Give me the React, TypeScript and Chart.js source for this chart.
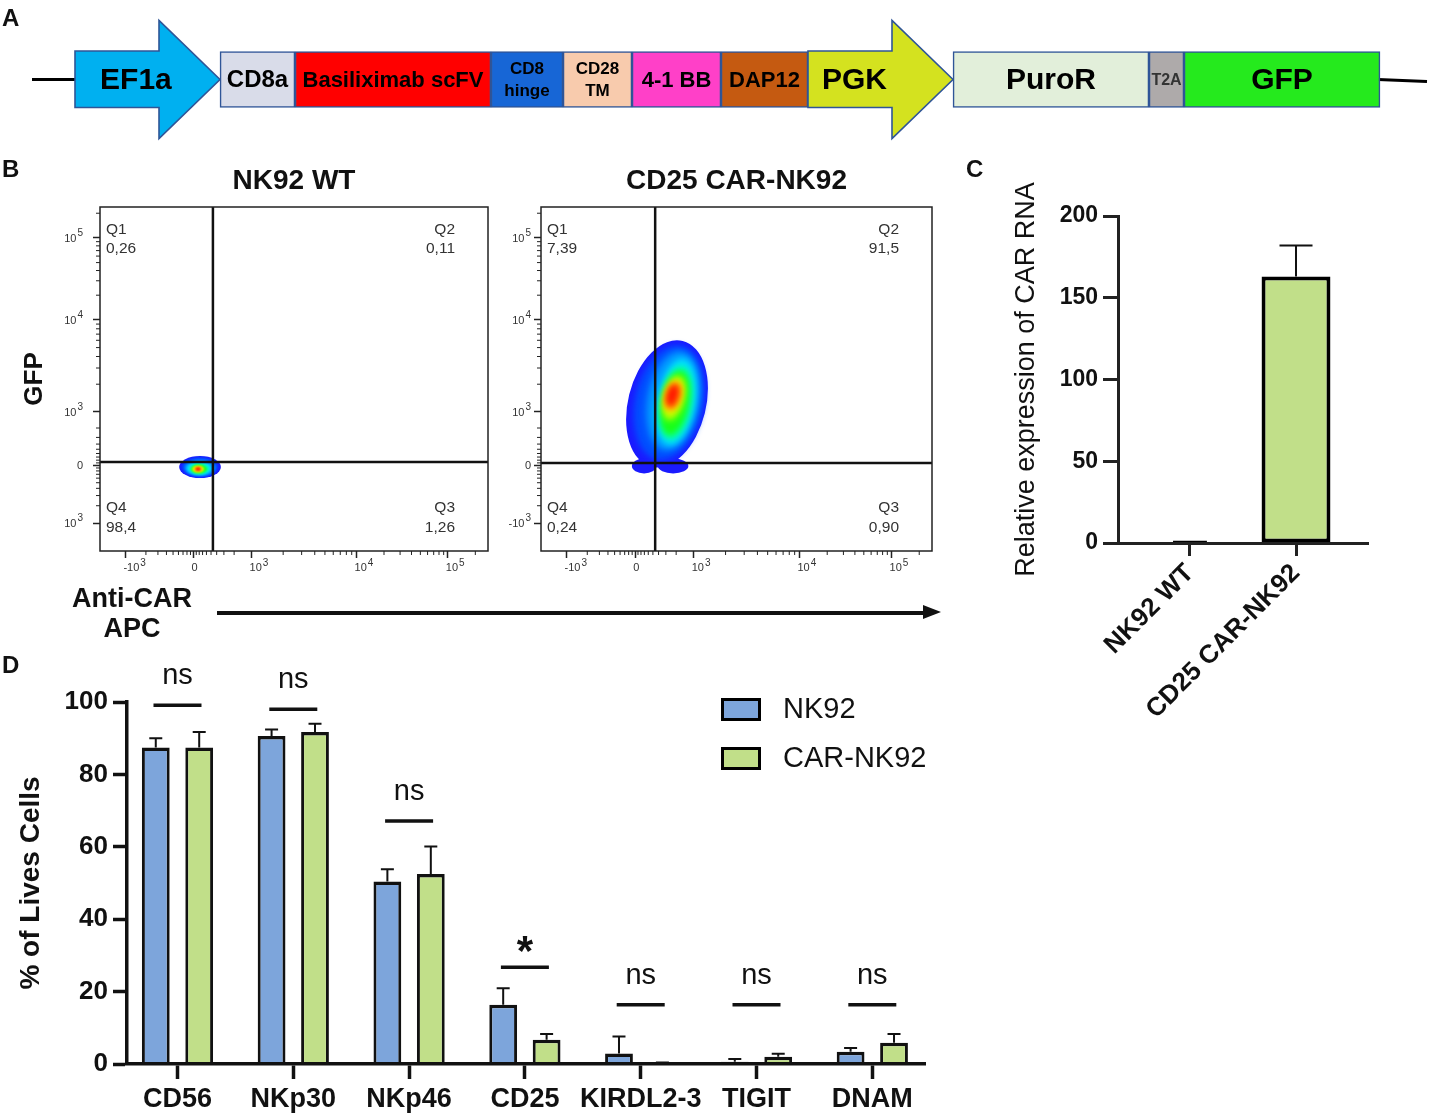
import React, { useEffect, useRef } from 'react';
import { Chart, registerables } from 'chart.js';

Chart.register(...registerables);

const FONT = '"Liberation Sans", Arial, Helvetica, sans-serif';
Chart.defaults.font.family = FONT;
Chart.defaults.font.size = 12;
Chart.defaults.color = '#000';

// ---------------- Panel A : construct ----------------
const constructParts = ['EF1a', 'CD8a', 'Basiliximab scFV', 'CD8\nhinge', 'CD28\nTM', '4-1 BB', 'DAP12', 'PGK', 'PuroR', 'T2A', 'GFP'];
const partLengths = [145, 75, 196, 72, 69, 89, 87, 145, 196, 35, 196];
const partIsPromoter = [true, false, false, false, false, false, false, true, false, false, false];

// styles for panel A
const partColors = ['#00b0f0', '#d9dce9', '#ff0000', '#1766d6', '#f8cbad', '#ff40c8', '#c55a11', '#d4e21f', '#e2efda', '#aeaaaa', '#25ea1d'];
const partFontSize = [30, 24, 22, 17, 17, 22, 22, 30, 30, 16, 30];
const partLabelFrac = [0.42, 0.5, 0.5, 0.5, 0.5, 0.5, 0.5, 0.32, 0.5, 0.5, 0.5];

// ---------------- Panel B : flow cytometry ----------------
const flowXTickCh = [67, 247, 400, 677, 918];
const flowXTickLabels = ['-10³', '0', '10³', '10⁴', '10⁵'];
const flowYTickCh = [83, 255, 414, 688, 932];
const wtYTickLabels = ['10³', '0', '10³', '10⁴', '10⁵'];
const carYTickLabels = ['-10³', '0', '10³', '10⁴', '10⁵'];
const wtGate = [298, 265];
const carGate = [299, 262];
const wtQuadrants = [0.26, 0.11, 1.26, 98.4]; // Q1, Q2, Q3, Q4
const carQuadrants = [7.39, 91.5, 0.9, 0.24];
// density contour levels: [level, centerX, centerY, radiusX, radiusY, tilt]
const wtDensity = [
  [0, 264, 250, 55, 33, 0],
  [1, 264, 250, 47, 28, 0],
  [2, 264, 247, 40, 24, 0],
  [3, 262, 246, 32, 19, 0],
  [4, 262, 245, 26, 16, 0],
  [5, 261, 244, 21, 13, 0],
  [6, 259, 244, 16, 10, 0],
  [7, 259, 244, 12, 8, 0],
  [8, 259, 244, 9, 6, 0],
  [9, 259, 244, 6, 4.5, 0],
];
const carDensity = [
  [0, 330, 438, 102, 193, 14],
  [0, 270, 253, 32, 22, 0],
  [0, 346, 253, 40, 22, 0],
  [1, 335, 441, 89, 173, 12],
  [2, 346, 447, 68, 149, 10],
  [3, 354, 444, 50, 131, 10],
  [4, 354, 441, 42, 113, 10],
  [5, 351, 441, 37, 98, 11],
  [6, 348, 455, 27.5, 68, 14],
  [7, 346, 461, 22, 51, 16],
  [8, 346, 461, 18, 40, 16],
  [9, 344, 464, 14, 33, 16],
];
const densityColors = ['#1a1aff', '#0050ff', '#0098ff', '#00dcff', '#00ffb4', '#18ff18', '#b4ff00', '#ffe600', '#ff7a00', '#ff1400'];

// ---------------- Panel C : CAR RNA ----------------
const cGroups = ['NK92 WT', 'CD25 CAR-NK92'];
const cMeans = [1.5, 163];
const cErrors = [0, 19];
const cBarWidthPct = [0.32, 0.65];

// ---------------- Panel D : markers ----------------
const dMarkers = ['CD56', 'NKp30', 'NKp46', 'CD25', 'KIRDL2-3', 'TIGIT', 'DNAM'];
const nk92Means = [87.4, 90.6, 50.4, 16.4, 2.9, 0.6, 3.4];
const nk92Err = [2.6, 1.8, 3.4, 4.5, 4.7, 0.8, 1.0];
const carMeans = [87.4, 91.7, 52.5, 6.7, 0.3, 2.0, 5.9];
const carErr = [4.3, 2.3, 7.6, 1.6, 0.1, 0.8, 2.4];
const sigText = ['ns', 'ns', 'ns', '*', 'ns', 'ns', 'ns'];
const sigLevel = [99.1, 98.0, 67.1, 26.7, 16.4, 16.4, 16.4];

// ---------------- helpers ----------------
function logMinor(anchors: number[]): number[] {
  const [n1, z, p1, p2, p3] = anchors;
  const out: number[] = [];
  for (let m = 1; m <= 8; m++) {
    const f = 1 - Math.log10(10 - m);
    out.push(z + (p1 - z) * f, z + (n1 - z) * f);
  }
  [[p1, p2], [p2, p3]].forEach(([a, b]) => {
    for (let m = 2; m <= 9; m++) out.push(a + (b - a) * Math.log10(m));
  });
  const dec = p3 - p2;
  for (let m = 2; m <= 4; m++) {
    const v = p3 + dec * Math.log10(m);
    if (v < 1020) out.push(v);
  }
  return out;
}
const flowXMinor = logMinor(flowXTickCh);
const flowYMinor = logMinor(flowYTickCh);

const SUP: Record<string, string> = { '⁰': '0', '¹': '1', '²': '2', '³': '3', '⁴': '4', '⁵': '5', '⁶': '6', '⁷': '7', '⁸': '8', '⁹': '9' };
function splitSup(label: string): [string, string] {
  let base = '';
  let exp = '';
  for (const ch of label) {
    if (SUP[ch]) exp += SUP[ch];
    else base += ch;
  }
  return [base, exp];
}

const constructPlugin = {
  id: 'construct',
  beforeDatasetsDraw(chart: any) {
    const { ctx, chartArea } = chart;
    const els = chart.getDatasetMeta(0).data;
    const first = els[0];
    const last = els[els.length - 1];
    const yc = first.y;
    ctx.save();
    ctx.strokeStyle = '#000';
    ctx.lineWidth = 3.2;
    ctx.beginPath();
    ctx.moveTo(chartArea.left, yc);
    ctx.lineTo(Math.min(first.x, first.base) + 2, yc);
    ctx.moveTo(Math.max(last.x, last.base) - 2, yc);
    ctx.lineTo(chartArea.right, yc + 2);
    ctx.stroke();
    ctx.restore();
  },
  afterDatasetsDraw(chart: any) {
    const { ctx } = chart;
    const els = chart.getDatasetMeta(0).data;
    ctx.save();
    els.forEach((el: any, i: number) => {
      const x0 = Math.min(el.x, el.base);
      const x1 = Math.max(el.x, el.base);
      const y = el.y;
      const h = el.height / 2;
      if (partIsPromoter[i]) {
        const xh = x1 - 61;
        const H = 59;
        ctx.beginPath();
        ctx.moveTo(x0, y - h - 0.5);
        ctx.lineTo(xh, y - h - 0.5);
        ctx.lineTo(xh, y - H);
        ctx.lineTo(x1, y);
        ctx.lineTo(xh, y + H);
        ctx.lineTo(xh, y + h);
        ctx.lineTo(x0, y + h);
        ctx.closePath();
        ctx.fillStyle = partColors[i];
        ctx.fill();
        ctx.strokeStyle = '#2f5597';
        ctx.lineWidth = 1.6;
        ctx.stroke();
      }
      const lines = constructParts[i].split('\n');
      const fs = partFontSize[i];
      ctx.font = `bold ${fs}px ${FONT}`;
      ctx.fillStyle = i === 9 ? '#333' : '#000';
      ctx.textAlign = 'center';
      ctx.textBaseline = 'middle';
      const cx = x0 + (x1 - x0) * partLabelFrac[i];
      const lh = fs * 1.3;
      lines.forEach((t: string, k: number) => ctx.fillText(t, cx, y + 1 + (k - (lines.length - 1) / 2) * lh));
    });
    ctx.restore();
  },
};

function constructConfig(): any {
  let acc = 0;
  const data = partLengths.map((len) => {
    const d = { x: [acc, acc + len], y: 0 };
    acc += len;
    return d;
  });
  return {
    type: 'bar',
    data: {
      datasets: [
        {
          data,
          backgroundColor: partColors.map((c, i) => (partIsPromoter[i] ? 'rgba(0,0,0,0)' : c)),
          borderColor: '#2f5597',
          borderWidth: partIsPromoter.map((p) => (p ? 0 : 1.6)),
          borderSkipped: false,
          barThickness: 56,
        },
      ],
    },
    options: {
      indexAxis: 'y',
      animation: false,
      responsive: false,
      events: [],
      layout: { padding: { left: 32, right: 4, top: 9, bottom: 0 } },
      scales: {
        x: { type: 'linear', display: false, min: -43, max: acc + 47 },
        y: { type: 'linear', display: false, min: -1, max: 1 },
      },
      plugins: { legend: { display: false }, tooltip: { enabled: false } },
    },
    plugins: [constructPlugin],
  };
}

const flowPlugin = {
  id: 'flow',
  beforeDatasetsDraw(chart: any, _a: any, o: any) {
    const { ctx, chartArea: ca, scales } = chart;
    const x = scales.x;
    const y = scales.y;
    ctx.save();
    ctx.beginPath();
    ctx.rect(ca.left, ca.top, ca.width, ca.height);
    ctx.clip();
    o.density.forEach(([lvl, cx, cy, rx, ry, tilt]: number[]) => {
      const px = x.getPixelForValue(cx);
      const py = y.getPixelForValue(cy);
      const prx = Math.abs(x.getPixelForValue(cx + rx) - px);
      const pry = Math.abs(y.getPixelForValue(cy + ry) - py);
      ctx.filter = lvl === 0 ? 'none' : `blur(${o.blur}px)`;
      ctx.fillStyle = densityColors[lvl];
      ctx.beginPath();
      ctx.ellipse(px, py, prx, pry, (tilt * Math.PI) / 180, 0, Math.PI * 2);
      ctx.fill();
    });
    ctx.restore();

    ctx.save();
    ctx.strokeStyle = '#111';
    ctx.lineWidth = 2.5;
    const gx = x.getPixelForValue(o.gate[0]);
    const gy = y.getPixelForValue(o.gate[1]);
    ctx.beginPath();
    ctx.moveTo(gx, ca.top);
    ctx.lineTo(gx, ca.bottom);
    ctx.moveTo(ca.left, gy);
    ctx.lineTo(ca.right, gy);
    ctx.stroke();

    ctx.lineWidth = 1.5;
    ctx.strokeStyle = '#222';
    ctx.strokeRect(ca.left, ca.top, ca.width, ca.height);

    ctx.lineWidth = 1;
    ctx.beginPath();
    flowXMinor.forEach((v) => {
      const p = x.getPixelForValue(v);
      ctx.moveTo(p, ca.bottom);
      ctx.lineTo(p, ca.bottom + 4);
    });
    flowYMinor.forEach((v) => {
      const p = y.getPixelForValue(v);
      ctx.moveTo(ca.left, p);
      ctx.lineTo(ca.left - 4, p);
    });
    ctx.stroke();

    // tick labels with superscript exponents
    ctx.fillStyle = '#333';
    ctx.textBaseline = 'middle';
    const baseFont = `11px ${FONT}`;
    const expFont = `10px ${FONT}`;
    o.yLabels.forEach((lab: string, i: number) => {
      const [b, e] = splitSup(lab);
      const py = y.getPixelForValue(flowYTickCh[i]);
      ctx.font = expFont;
      const ew = e ? ctx.measureText(e).width + 1 : 0;
      const right = ca.left - o.yGap;
      ctx.textAlign = 'right';
      if (e) ctx.fillText(e, right, py - 5);
      ctx.font = baseFont;
      ctx.fillText(b, right - ew, py + 1);
    });
    flowXTickLabels.forEach((lab: string, i: number) => {
      const [b, e] = splitSup(lab);
      const px = x.getPixelForValue(flowXTickCh[i]) - 2;
      ctx.textAlign = 'left';
      ctx.font = baseFont;
      const bw = ctx.measureText(b).width;
      ctx.fillText(b, px, ca.bottom + 17);
      if (e) {
        ctx.font = expFont;
        ctx.fillText(e, px + bw + 1, ca.bottom + 12);
      }
    });

    const fmt = (v: number) => (v >= 1 ? v.toPrecision(3) : v.toFixed(2)).replace('.', ',');
    const [q1, q2, q3, q4] = o.quads;
    ctx.fillStyle = '#333';
    ctx.font = `15.5px ${FONT}`;
    ctx.textBaseline = 'middle';
    ctx.textAlign = 'left';
    ctx.fillText('Q1', ca.left + 6, ca.top + 23);
    ctx.fillText(fmt(q1), ca.left + 6, ca.top + 42);
    ctx.fillText('Q4', ca.left + 6, ca.bottom - 43);
    ctx.fillText(fmt(q4), ca.left + 6, ca.bottom - 23);
    ctx.textAlign = 'right';
    ctx.fillText('Q2', ca.right - 33, ca.top + 23);
    ctx.fillText(fmt(q2), ca.right - 33, ca.top + 42);
    ctx.fillText('Q3', ca.right - 33, ca.bottom - 43);
    ctx.fillText(fmt(q3), ca.right - 33, ca.bottom - 23);

    ctx.fillStyle = '#111';
    ctx.font = `bold 28px ${FONT}`;
    ctx.textAlign = 'center';
    ctx.fillText(o.title, (ca.left + ca.right) / 2, ca.top - 26);
    ctx.restore();
  },
};

function flowConfig(p: any): any {
  return {
    type: 'scatter',
    data: { datasets: [] },
    options: {
      animation: false,
      responsive: false,
      events: [],
      layout: { padding: { top: 47, right: p.padRight, left: 0, bottom: 0 } },
      plugins: {
        legend: { display: false },
        tooltip: { enabled: false },
        flow: { title: p.title, gate: p.gate, quads: p.quads, density: p.density, blur: p.blur, yLabels: p.yLabels, yGap: p.yGap },
      },
      scales: {
        x: {
          type: 'linear',
          min: 0,
          max: 1024,
          afterBuildTicks: (s: any) => {
            s.ticks = flowXTickCh.map((v) => ({ value: v }));
          },
          ticks: { display: false, callback: (_v: any, i: number) => flowXTickLabels[i], autoSkip: false, maxRotation: 0 },
          grid: { drawOnChartArea: false, tickLength: 7, tickWidth: 1.5, tickColor: '#222' },
          border: { display: false },
          afterFit: (s: any) => {
            s.height = 49;
          },
        },
        y: {
          type: 'linear',
          min: 0,
          max: 1024,
          afterBuildTicks: (s: any) => {
            s.ticks = flowYTickCh.map((v) => ({ value: v }));
          },
          ticks: { display: false, callback: (_v: any, i: number) => p.yLabels[i], autoSkip: false },
          grid: { drawOnChartArea: false, tickLength: 7, tickWidth: 1.5, tickColor: '#222' },
          border: { display: false },
          title: { display: p.gfp, text: 'GFP', font: { size: 26, weight: 'bold' }, color: '#111', padding: { top: 19, bottom: 0 } },
          afterFit: (s: any) => {
            s.width = p.yWidth;
          },
        },
      },
    },
    plugins: [flowPlugin],
  };
}

const errorBarPlugin = {
  id: 'errbars',
  afterDatasetsDraw(chart: any, _a: any, o: any) {
    if (!o || !o.errors) return;
    const { ctx } = chart;
    const y = chart.scales.y;
    ctx.save();
    ctx.strokeStyle = '#111';
    ctx.lineWidth = o.lineWidth;
    o.errors.forEach((errs: number[], di: number) => {
      const meta = chart.getDatasetMeta(di);
      meta.data.forEach((el: any, i: number) => {
        const e = errs[i];
        if (!e) return;
        const raw = chart.data.datasets[di].data[i];
        const v = typeof raw === 'object' ? raw.y : raw;
        const top = y.getPixelForValue(v + e);
        ctx.beginPath();
        ctx.moveTo(el.x, el.y);
        ctx.lineTo(el.x, top);
        ctx.moveTo(el.x - o.cap / 2, top);
        ctx.lineTo(el.x + o.cap / 2, top);
        ctx.stroke();
      });
    });
    ctx.restore();
  },
};

function rnaConfig(): any {
  return {
    type: 'bar',
    data: {
      datasets: cGroups.map((g, i) => ({
        label: g,
        data: [{ x: i, y: cMeans[i] }],
        grouped: false,
        categoryPercentage: 1,
        barPercentage: cBarWidthPct[i],
        backgroundColor: '#c1df89',
        borderColor: '#000',
        borderWidth: 4,
        borderSkipped: false,
      })),
    },
    options: {
      animation: false,
      responsive: false,
      events: [],
      layout: { padding: { top: 56, right: 63, left: 0, bottom: 0 } },
      plugins: {
        legend: { display: false },
        tooltip: { enabled: false },
        errbars: { errors: cErrors.map((e) => [e]), cap: 33, lineWidth: 2 },
      },
      scales: {
        x: {
          type: 'linear',
          min: -0.679,
          max: 1.679,
          offset: false,
          afterBuildTicks: (s: any) => {
            s.ticks = cGroups.map((_g, i) => ({ value: i }));
          },
          ticks: { callback: (_v: any, i: number) => cGroups[i], autoSkip: false, minRotation: 45, maxRotation: 45, font: { size: 26, weight: 'bold' }, padding: 2, color: '#111' },
          grid: { offset: false, drawOnChartArea: false, tickLength: 13, tickWidth: 3, tickColor: '#222' },
          border: { width: 3, color: '#222', z: 1 },
          afterFit: (s: any) => {
            s.height = 197;
          },
        },
        y: {
          min: 0,
          max: 200,
          ticks: { stepSize: 50, font: { size: 23, weight: 'bold' }, padding: 5, color: '#111' },
          grid: { drawOnChartArea: false, tickLength: 15, tickWidth: 3, tickColor: '#222' },
          border: { width: 3, color: '#222', z: 1 },
          title: { display: true, text: 'Relative expression of CAR RNA', font: { size: 27 }, color: '#111', padding: { top: 50, bottom: 0 } },
          afterFit: (s: any) => {
            s.width = 158;
          },
        },
      },
    },
    plugins: [errorBarPlugin],
  };
}

const sigPlugin = {
  id: 'sig',
  afterDatasetsDraw(chart: any) {
    const { ctx, chartArea } = chart;
    const x = chart.scales.x;
    const y = chart.scales.y;
    ctx.save();
    sigText.forEach((t, i) => {
      const cx = x.getPixelForValue(i);
      const yl = y.getPixelForValue(sigLevel[i]);
      ctx.strokeStyle = '#111';
      ctx.lineWidth = 3.5;
      ctx.beginPath();
      ctx.moveTo(cx - 24, yl);
      ctx.lineTo(cx + 24, yl);
      ctx.stroke();
      ctx.fillStyle = '#111';
      ctx.textAlign = 'center';
      ctx.textBaseline = 'alphabetic';
      if (t === '*') {
        ctx.font = `bold 42px ${FONT}`;
        ctx.fillText(t, cx, yl - 2);
      } else {
        ctx.font = `29px ${FONT}`;
        ctx.fillText(t, cx, yl - 21);
      }
    });
    chart.data.datasets.forEach((ds: any, k: number) => {
      const bx = chartArea.right - 204;
      const by = chartArea.top - 4 + k * 49;
      ctx.fillStyle = ds.backgroundColor;
      ctx.fillRect(bx, by, 40, 23);
      ctx.strokeStyle = '#000';
      ctx.lineWidth = 3;
      ctx.strokeRect(bx + 1.5, by + 1.5, 37, 20);
      ctx.fillStyle = '#111';
      ctx.font = `29px ${FONT}`;
      ctx.textAlign = 'left';
      ctx.textBaseline = 'middle';
      ctx.fillText(ds.label, bx + 62, by + 12);
    });
    ctx.restore();
  },
};

function markerConfig(): any {
  return {
    type: 'bar',
    data: {
      datasets: [
        { label: 'NK92', data: nk92Means.map((v, i) => ({ x: i, y: v })), backgroundColor: '#7da5db' },
        { label: 'CAR-NK92', data: carMeans.map((v, i) => ({ x: i, y: v })), backgroundColor: '#c1df89' },
      ],
    },
    options: {
      animation: false,
      responsive: false,
      events: [],
      datasets: {
        bar: {
          categoryPercentage: 0.75,
          barPercentage: 0.64,
          borderColor: '#111',
          borderWidth: { top: 3.5, left: 3, right: 3, bottom: 0 },
          borderSkipped: 'start',
        },
      },
      layout: { padding: { top: 62, right: 506, left: 0, bottom: 0 } },
      plugins: {
        legend: { display: false },
        tooltip: { enabled: false },
        errbars: { errors: [nk92Err, carErr], cap: 13, lineWidth: 2 },
      },
      scales: {
        x: {
          type: 'linear',
          min: -0.436,
          max: 6.455,
          offset: false,
          afterBuildTicks: (s: any) => {
            s.ticks = dMarkers.map((_m, i) => ({ value: i }));
          },
          ticks: { callback: (_v: any, i: number) => dMarkers[i], autoSkip: false, maxRotation: 0, font: { size: 27, weight: 'bold' }, padding: 4, color: '#111' },
          grid: { offset: false, drawOnChartArea: false, tickLength: 15, tickWidth: 3.5, tickColor: '#111' },
          border: { width: 3.5, color: '#111', z: 1 },
          afterFit: (s: any) => {
            s.height = 54;
          },
        },
        y: {
          min: 0,
          max: 100,
          ticks: { stepSize: 20, font: { size: 26, weight: 'bold' }, padding: 5, color: '#111' },
          grid: { drawOnChartArea: false, tickLength: 14, tickWidth: 3.5, tickColor: '#111' },
          border: { width: 3.5, color: '#111', z: 1 },
          title: { display: true, text: '% of Lives Cells', font: { size: 28, weight: 'bold' }, color: '#111', padding: { top: 14, bottom: 0 } },
          afterFit: (s: any) => {
            s.width = 127;
          },
        },
      },
    },
    plugins: [errorBarPlugin, sigPlugin],
  };
}

const wtParams = { title: 'NK92 WT', yLabels: wtYTickLabels, gate: wtGate, quads: wtQuadrants, density: wtDensity, yWidth: 100, yGap: 17, padRight: 12, gfp: true, blur: 1 };
const carParams = { title: 'CD25 CAR-NK92', yLabels: carYTickLabels, gate: carGate, quads: carQuadrants, density: carDensity, yWidth: 41, yGap: 10, padRight: 13, gfp: false, blur: 3 };

const makeWt = () => flowConfig(wtParams);
const makeCar = () => flowConfig(carParams);

function ChartCanvas({ make, left, top, width, height }: any) {
  const ref = useRef<HTMLCanvasElement | null>(null);
  useEffect(() => {
    if (!ref.current) return;
    const chart = new Chart(ref.current, make());
    return () => chart.destroy();
  }, [make]);
  return <canvas ref={ref} width={width} height={height} style={{ position: 'absolute', left, top, width, height, display: 'block' }} />;
}

const letterStyle = (left: number, top: number): React.CSSProperties => ({
  position: 'absolute',
  left,
  top,
  fontSize: 24,
  lineHeight: '24px',
  fontWeight: 'bold',
  color: '#111',
});

export default function App() {
  return (
    <div style={{ position: 'absolute', left: 0, top: 0, width: 1431, height: 1118, background: '#fff', overflow: 'hidden', fontFamily: FONT }}>
      <ChartCanvas make={constructConfig} left={0} top={0} width={1431} height={150} />
      <ChartCanvas make={makeWt} left={0} top={160} width={500} height={440} />
      <ChartCanvas make={makeCar} left={500} top={160} width={445} height={440} />
      <ChartCanvas make={rnaConfig} left={960} top={160} width={471} height={580} />
      <ChartCanvas make={markerConfig} left={0} top={640} width={1431} height={478} />
      <div style={letterStyle(2, 6)}>A</div>
      <div style={letterStyle(2, 157)}>B</div>
      <div style={letterStyle(966, 157)}>C</div>
      <div style={letterStyle(2, 653)}>D</div>
      <div style={{ position: 'absolute', left: 32, top: 583, width: 200, textAlign: 'center', fontSize: 27, lineHeight: '30px', fontWeight: 'bold', color: '#111' }}>
        Anti-CAR
        <br />
        APC
      </div>
      <div style={{ position: 'absolute', left: 217, top: 610.5, width: 710, height: 4, background: '#111' }} />
      <div
        style={{
          position: 'absolute',
          left: 923,
          top: 605,
          width: 0,
          height: 0,
          borderLeft: '18px solid #111',
          borderTop: '7.5px solid transparent',
          borderBottom: '7.5px solid transparent',
        }}
      />
    </div>
  );
}
